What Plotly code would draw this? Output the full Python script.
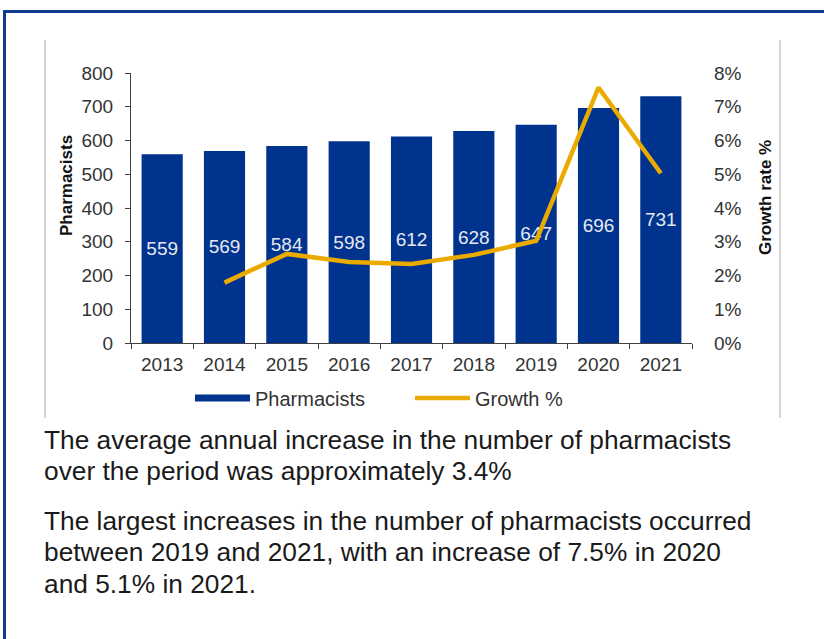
import plotly.graph_objects as go

years = ["2013", "2014", "2015", "2016", "2017", "2018", "2019", "2020", "2021"]
pharmacists = [559, 569, 584, 598, 612, 628, 647, 696, 731]
growth = [None, 0.0179, 0.0264, 0.0240, 0.0234, 0.0261, 0.0303, 0.0757, 0.0503]

para1 = ["The average annual increase in the number of pharmacists",
         "over the period was approximately 3.4%"]
para2 = ["The largest increases in the number of pharmacists occurred",
         "between 2019 and 2021, with an increase of 7.5% in 2020",
         "and 5.1% in 2021."]

BLUE = "#00338D"
GOLD = "#EAAA00"
FONT = "Liberation Sans, Arial, sans-serif"

W, H = 824, 639
L, R, T, B = 131, 692, 73, 343


def px_x(p):
    return (p - L) / (R - L)


def px_y(p):
    return (B - p) / (B - T)


fig = go.Figure()
fig.add_trace(go.Bar(
    x=years, y=pharmacists, marker=dict(color=BLUE, line=dict(width=0)),
    text=[str(v) for v in pharmacists], textposition="inside",
    insidetextanchor="middle", textangle=0, constraintext="none",
    textfont=dict(color="#e6e8f0", size=19, family=FONT),
    showlegend=False, name="Pharmacists", hoverinfo="x+y"))
fig.add_trace(go.Scatter(
    x=[years[0]], y=[None], mode="lines", name="Pharmacists",
    line=dict(color=BLUE, width=7), hoverinfo="skip"))
fig.add_trace(go.Scatter(
    x=years, y=growth, yaxis="y2", mode="lines", name="Growth %",
    line=dict(color=GOLD, width=4.5), connectgaps=False))

fig.update_layout(
    width=W, height=H,
    margin=dict(l=L, r=W - R, t=T, b=H - B, pad=0),
    paper_bgcolor="white", plot_bgcolor="white",
    font=dict(family=FONT, color="#333333", size=19),
    bargap=0.34,
    xaxis=dict(
        type="category", showgrid=False, showline=True, linecolor="#404040",
        linewidth=1, ticks="outside", tickson="boundaries", ticklen=5,
        tickcolor="#404040", tickfont=dict(size=19, color="#333333"),
        ticklabelstandoff=4, zeroline=False),
    yaxis=dict(
        range=[0, 800], dtick=100, showgrid=False, showline=True,
        linecolor="#404040", linewidth=1, ticks="outside", ticklen=5,
        tickcolor="#404040", tickfont=dict(size=19, color="#333333"),
        ticklabelstandoff=8, zeroline=False),
    yaxis2=dict(
        range=[0, 0.08], dtick=0.01, tickformat=".0%", overlaying="y",
        side="right", showgrid=False, showline=False, ticks="",
        tickfont=dict(size=19, color="#333333"), ticklabelstandoff=21,
        zeroline=False),
    legend=dict(
        orientation="h", x=px_x(190), y=px_y(398), xanchor="left",
        yanchor="middle", entrywidth=150, entrywidthmode="pixels",
        itemwidth=55, font=dict(size=20, color="#333333"),
        bgcolor="rgba(0,0,0,0)", traceorder="normal"),
)

annotations = [
    dict(text="<b>Pharmacists</b>", x=px_x(66), y=px_y(186), textangle=-90,
         font=dict(size=17, color="#111111")),
    dict(text="<b>Growth rate %</b>", x=px_x(765), y=px_y(198), textangle=-90,
         font=dict(size=17, color="#111111")),
]
centers = [439.5, 470.5, 520.5, 551.5, 583.5]
for line, cy in zip(para1 + para2, centers):
    annotations.append(dict(text=line, x=px_x(42), y=px_y(cy), xanchor="left",
                            yanchor="middle", align="left",
                            font=dict(size=26.3, color="#1a1a1a")))
for a in annotations:
    a.update(xref="paper", yref="paper", showarrow=False)
    a.setdefault("xanchor", "center")
    a.setdefault("yanchor", "middle")
fig.update_layout(annotations=annotations)

shapes = [
    dict(type="line", x0=px_x(45), x1=px_x(45), y0=px_y(40), y1=px_y(418),
         line=dict(color="#c8c8c8", width=1.5)),
    dict(type="line", x0=px_x(780), x1=px_x(780), y0=px_y(40), y1=px_y(418),
         line=dict(color="#c8c8c8", width=1.5)),
    dict(type="rect", x0=px_x(4.5), x1=px_x(840), y0=px_y(11.5), y1=px_y(660),
         line=dict(color="#103a8e", width=3), fillcolor="rgba(0,0,0,0)"),
]
for s in shapes:
    s.update(xref="paper", yref="paper", layer="above")
fig.update_layout(shapes=shapes)

fig.write_html("out.html")
